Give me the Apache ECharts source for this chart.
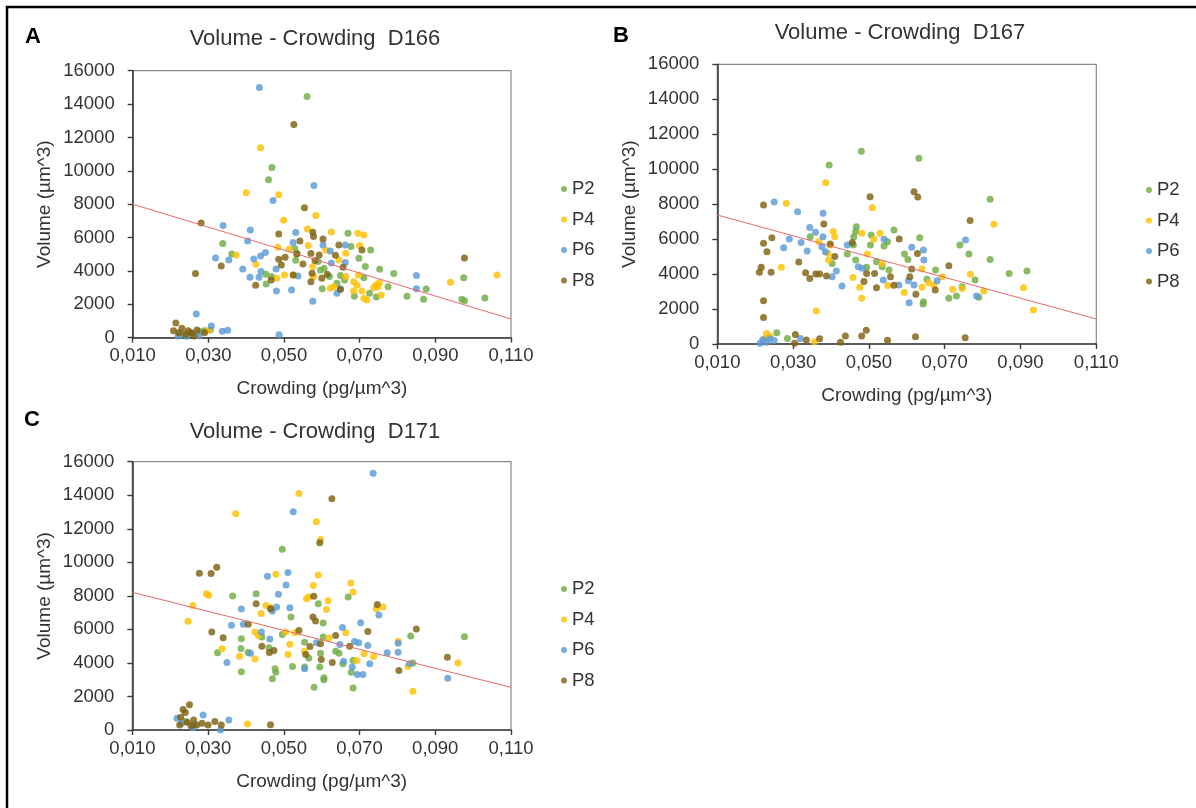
<!DOCTYPE html>
<html><head><meta charset="utf-8">
<script src="https://cdn.jsdelivr.net/npm/echarts@6/dist/echarts.min.js"></script>
<style>html,body{margin:0;padding:0;background:#fff}#c{width:1196px;height:808px}</style>
</head><body><div id="c"></div><script>
// ---------- DATA ----------
const seriesNames = ['P2', 'P4', 'P6', 'P8'];
const panelTitles = ['Volume - Crowding  D166', 'Volume - Crowding  D167', 'Volume - Crowding  D171'];
const panelLetters = ['A', 'B', 'C'];
const xTicks = [0.010, 0.030, 0.050, 0.070, 0.090, 0.110];
const yTicks = [0, 2000, 4000, 6000, 8000, 10000, 12000, 14000, 16000];
const xAxisTitle = 'Crowding (pg/µm^3)';
const yAxisTitle = 'Volume (µm^3)';

// Panel A (D166)
const aP2 = [[0.0561,14460],[0.0468,10200],[0.0459,9460],[0.0338,5640],[0.0362,5020],[0.0452,3800],[0.0453,3220],[0.0467,3660],[0.0528,5340],[0.0531,4640],[0.0534,5060],[0.0596,4040],[0.0601,2940],[0.0606,4160],[0.0620,3660],[0.0640,3260],[0.0649,3720],[0.0660,3460],[0.0669,6260],[0.0677,5460],[0.0686,2480],[0.0698,4760],[0.0711,3600],[0.0715,4260],[0.0729,5260],[0.0726,2660],[0.0744,2440],[0.0753,4100],[0.0775,3060],[0.0790,3840],[0.0825,2480],[0.0869,2300],[0.0876,2920],[0.0975,3600],[0.0970,2300],[0.0977,2220],[0.1031,2380],[0.0289,420],[0.0305,460],[0.0277,360],[0.0230,200],[0.0590,4560]];
const aP4 = [[0.0438,11380],[0.0400,8680],[0.0486,8560],[0.0584,7320],[0.0499,7040],[0.0562,6520],[0.0625,6340],[0.0564,5520],[0.0484,5420],[0.0514,5320],[0.0373,4960],[0.0426,4400],[0.0501,3760],[0.0481,3560],[0.0525,3760],[0.0576,4260],[0.0578,3660],[0.0631,3060],[0.0622,2960],[0.0663,5060],[0.0695,6260],[0.0711,6160],[0.0700,5520],[0.0645,4660],[0.0663,3660],[0.0697,3760],[0.0684,3360],[0.0693,3140],[0.0706,2800],[0.0684,2800],[0.0711,2360],[0.0719,2260],[0.0737,3000],[0.0743,3160],[0.0752,3300],[0.0748,3060],[0.0757,2560],[0.0940,3320],[0.1063,3760],[0.0302,460],[0.0250,300],[0.0610,5260]];
const aP6 = [[0.0435,15000],[0.0579,9120],[0.0471,8220],[0.0339,6720],[0.0411,6460],[0.0404,5800],[0.0531,6300],[0.0524,5700],[0.0319,4780],[0.0354,4660],[0.0391,4120],[0.0410,3620],[0.0420,4720],[0.0438,4900],[0.0451,5100],[0.0434,3620],[0.0439,3960],[0.0479,4120],[0.0480,2800],[0.0520,2860],[0.0576,2180],[0.0537,3700],[0.0603,5560],[0.0622,5200],[0.0662,5560],[0.0662,4500],[0.0625,4480],[0.0649,2920],[0.0640,2660],[0.0850,3720],[0.0850,2940],[0.0268,1420],[0.0308,700],[0.0337,380],[0.0351,440],[0.0487,180],[0.0220,100],[0.0243,80],[0.0275,120],[0.0255,300]];
const aP8 = [[0.0526,12780],[0.0554,7780],[0.0281,6880],[0.0486,6220],[0.0576,6320],[0.0578,6060],[0.0603,5920],[0.0542,5800],[0.0503,4820],[0.0486,4700],[0.0334,4300],[0.0266,3840],[0.0425,3140],[0.0466,3460],[0.0493,4360],[0.0524,3760],[0.0534,5020],[0.0550,4420],[0.0571,5040],[0.0582,4620],[0.0593,4960],[0.0574,3860],[0.0571,3360],[0.0600,3560],[0.0614,3800],[0.0636,4940],[0.0645,5560],[0.0656,4220],[0.0649,2900],[0.0706,5260],[0.0977,4780],[0.0214,880],[0.0208,420],[0.0230,560],[0.0247,420],[0.0256,260],[0.0270,460],[0.0262,100],[0.0240,200],[0.0222,300],[0.0290,300]];
const trendA = [[0.010,8000],[0.110,1120]];

// Panel B (D167)
const bP2 = [[0.0480,11020],[0.0395,10240],[0.0632,10620],[0.0467,6710],[0.0465,6430],[0.0345,6140],[0.0460,6140],[0.0506,6240],[0.0566,6520],[0.0459,5660],[0.0504,5660],[0.0540,5600],[0.0549,5850],[0.0594,5150],[0.0603,4840],[0.0465,4800],[0.0443,5150],[0.0494,4390],[0.0520,4710],[0.0535,4420],[0.0553,4230],[0.0634,6080],[0.0676,4230],[0.0653,3700],[0.0644,2420],[0.0643,2290],[0.0711,2610],[0.0731,2750],[0.0740,5660],[0.0764,5150],[0.0780,3660],[0.0790,2670],[0.0820,8280],[0.0820,4840],[0.0870,4040],[0.0917,4180],[0.0746,3280],[0.0403,4610],[0.0257,650],[0.0285,320]];
const bP4 = [[0.0386,9230],[0.0282,8050],[0.0509,7800],[0.0406,6430],[0.0410,6140],[0.0398,5660],[0.0392,5190],[0.0394,4800],[0.0529,6330],[0.0513,5990],[0.0481,6330],[0.0458,3800],[0.0476,3240],[0.0481,2610],[0.0269,4390],[0.0361,1890],[0.0368,5850],[0.0535,4610],[0.0496,5150],[0.0830,6850],[0.0640,4290],[0.0640,3240],[0.0593,2940],[0.0768,3990],[0.0721,3130],[0.0746,3180],[0.0803,3030],[0.0908,3220],[0.0934,1950],[0.0693,3850],[0.0658,3510],[0.0671,3380],[0.0230,600],[0.0240,450],[0.0225,300],[0.0356,130],[0.0550,3350]];
const bP6 = [[0.0250,8120],[0.0312,7570],[0.0379,7480],[0.0344,6660],[0.0359,6390],[0.0379,6140],[0.0290,6010],[0.0275,5510],[0.0321,5800],[0.0337,5320],[0.0376,5570],[0.0385,5280],[0.0414,4180],[0.0403,3850],[0.0429,3320],[0.0443,5660],[0.0472,4420],[0.0482,4330],[0.0540,5990],[0.0538,3660],[0.0579,3380],[0.0606,2360],[0.0619,3380],[0.0613,5530],[0.0604,3620],[0.0644,5380],[0.0645,4810],[0.0680,3620],[0.0755,5950],[0.0784,2750],[0.0213,50],[0.0220,250],[0.0230,100],[0.0238,300],[0.0250,200],[0.0319,320]];
const bP8 = [[0.0222,7950],[0.0503,8430],[0.0381,6870],[0.0244,6080],[0.0222,5760],[0.0231,5280],[0.0456,5800],[0.0216,4390],[0.0211,4100],[0.0242,4100],[0.0315,4690],[0.0333,4080],[0.0344,3740],[0.0360,4000],[0.0370,4000],[0.0388,3890],[0.0410,5000],[0.0398,5720],[0.0487,3570],[0.0494,4040],[0.0515,4040],[0.0520,3220],[0.0557,3850],[0.0566,3360],[0.0580,6000],[0.0619,8710],[0.0629,8410],[0.0767,7070],[0.0628,5170],[0.0613,4290],[0.0608,3850],[0.0624,2840],[0.0711,4480],[0.0675,3090],[0.0222,2480],[0.0222,1510],[0.0306,550],[0.0304,40],[0.0335,230],[0.0370,300],[0.0425,100],[0.0438,460],[0.0481,460],[0.0493,780],[0.0549,210],[0.0623,420],[0.0754,360]];
const trendB = [[0.010,7380],[0.110,1430]];

// Panel C (D171)
const cP2 = [[0.0496,10780],[0.0365,7990],[0.0427,8130],[0.0388,5440],[0.0387,4860],[0.0325,4600],[0.0461,4900],[0.0388,3470],[0.0406,4620],[0.0477,3650],[0.0479,3450],[0.0470,3050],[0.0442,5540],[0.0496,5700],[0.0519,6740],[0.0591,7530],[0.0604,6380],[0.0670,7930],[0.0555,5240],[0.0555,3750],[0.0604,5540],[0.0637,4700],[0.0646,4580],[0.0597,4580],[0.0595,3750],[0.0606,3110],[0.0606,2990],[0.0580,2550],[0.0523,3790],[0.0656,3950],[0.0678,3450],[0.0683,2510],[0.0683,4150],[0.0835,5600],[0.0841,3990],[0.0566,4300],[0.0977,5560],[0.0240,500],[0.0262,300]];
const cP4 = [[0.0373,12900],[0.0296,8130],[0.0302,8030],[0.0260,7430],[0.0247,6480],[0.0479,9290],[0.0453,7430],[0.0440,6940],[0.0465,7290],[0.0424,5840],[0.0433,5640],[0.0337,4840],[0.0383,4400],[0.0424,4230],[0.0404,360],[0.0540,14110],[0.0586,12420],[0.0597,11360],[0.0591,9250],[0.0578,8610],[0.0677,8770],[0.0683,8230],[0.0560,7830],[0.0566,7930],[0.0617,7710],[0.0613,7190],[0.0744,7230],[0.0762,7330],[0.0664,5800],[0.0619,5480],[0.0516,5120],[0.0511,4500],[0.0555,4700],[0.0712,4540],[0.0737,4380],[0.0693,4150],[0.0802,5300],[0.0828,3790],[0.0841,2310],[0.0960,4000],[0.0505,5840],[0.0530,5800]];
const cP6 = [[0.0457,9170],[0.0486,8090],[0.0388,7210],[0.0362,6240],[0.0393,6300],[0.0481,7330],[0.0470,7090],[0.0441,5840],[0.0463,5420],[0.0412,4580],[0.0350,4030],[0.0287,900],[0.0218,700],[0.0355,600],[0.0333,0],[0.0736,15310],[0.0525,13010],[0.0511,9390],[0.0506,8650],[0.0516,7290],[0.0655,6120],[0.0703,6400],[0.0751,6860],[0.0586,5200],[0.0687,5280],[0.0698,5200],[0.0722,5040],[0.0648,5100],[0.0802,5180],[0.0802,4640],[0.0773,4600],[0.0658,4100],[0.0681,3750],[0.0694,3310],[0.0709,3310],[0.0727,3950],[0.0832,3950],[0.0933,3090],[0.0555,3650],[0.0230,400],[0.0260,150]];
const cP8 = [[0.0277,9350],[0.0308,9330],[0.0323,9710],[0.0310,5840],[0.0340,5500],[0.0427,7530],[0.0465,7230],[0.0406,6300],[0.0442,5000],[0.0462,4620],[0.0474,4740],[0.0465,320],[0.0234,1220],[0.0251,1500],[0.0240,1040],[0.0228,760],[0.0245,460],[0.0262,600],[0.0270,300],[0.0284,400],[0.0300,300],[0.0318,500],[0.0335,300],[0.0225,300],[0.0255,250],[0.0627,13790],[0.0595,11160],[0.0579,7970],[0.0577,6740],[0.0584,6500],[0.0540,5940],[0.0747,7490],[0.0722,5880],[0.0850,6020],[0.0637,5640],[0.0597,5140],[0.0569,4980],[0.0558,4500],[0.0599,4200],[0.0628,4030],[0.0674,5000],[0.0804,3550],[0.0932,4340]];
const trendC = [[0.010,8210],[0.110,2545]];

// ---------- LAYOUT / STYLE ----------
const panels = [
  {data: [aP2, aP4, aP6, aP8], trend: trendA},
  {data: [bP2, bP4, bP6, bP8], trend: trendB},
  {data: [cP2, cP4, cP6, cP8], trend: trendC}
];
const colors = ['#70AD47', '#FFC000', '#5B9BD5', '#7F6112'];
const FONT = '"Liberation Sans", Arial, sans-serif';
const TXT = '#333333';
const grids = [
  {left: 132.7, top: 70.7, width: 378.3, height: 267},
  {left: 717.3, top: 64.3, width: 379, height: 279.7},
  {left: 132.3, top: 461.7, width: 378.7, height: 268.3}
];
const titlePos = [{x: 315, y: 28}, {x: 900, y: 22}, {x: 315, y: 421}];
const letterPos = [{x: 33, y: 26}, {x: 621, y: 25}, {x: 32, y: 409}];
const legendPos = [{left: 561, top: 179}, {left: 1146, top: 180}, {left: 561, top: 579}];

const option = {
  animation: false,
  backgroundColor: '#fff',
  textStyle: {fontFamily: FONT},
  title: [],
  grid: grids.map(g => Object.assign({show: true, borderColor: '#8a8a8a', borderWidth: 1.2, backgroundColor: 'transparent'}, g)),
  xAxis: [], yAxis: [], legend: [], series: [],
  graphic: [{
    type: 'polyline', silent: true,
    shape: {points: [[7, 810], [7, 7], [1198, 7]]},
    style: {stroke: '#000', lineWidth: 2.5, fill: null}
  }]
};

panels.forEach((p, i) => {
  option.title.push({
    text: panelTitles[i], left: titlePos[i].x, top: titlePos[i].y, textAlign: 'center', padding: 0,
    textStyle: {fontFamily: FONT, fontSize: 22, fontWeight: 'normal', color: TXT}
  });
  option.title.push({
    text: panelLetters[i], left: letterPos[i].x, top: letterPos[i].y, textAlign: 'center', padding: 0,
    textStyle: {fontFamily: FONT, fontSize: 22, fontWeight: 'bold', color: '#000'}
  });
  option.xAxis.push({
    type: 'value', gridIndex: i, min: 0.01, max: 0.11,
    name: xAxisTitle, nameLocation: 'middle', nameGap: 42,
    nameTextStyle: {fontFamily: FONT, fontSize: 19, color: TXT},
    axisLine: {show: true, onZero: false, lineStyle: {color: '#3a3a3a', width: 1.6}},
    axisTick: {show: true, inside: false, length: 5, customValues: xTicks, lineStyle: {color: '#3a3a3a', width: 1.4}},
    axisLabel: {customValues: xTicks, margin: 9, fontFamily: FONT, fontSize: 18.5, color: TXT,
      formatter: v => v.toFixed(3).replace('.', ',')},
    splitLine: {show: false}
  });
  option.yAxis.push({
    type: 'value', gridIndex: i, min: 0, max: 16000, interval: 2000,
    name: yAxisTitle, nameLocation: 'middle', nameGap: 78,
    nameTextStyle: {fontFamily: FONT, fontSize: 19, color: TXT},
    axisLine: {show: true, onZero: false, lineStyle: {color: '#3a3a3a', width: 1.6}},
    axisTick: {show: true, inside: false, length: 5, lineStyle: {color: '#3a3a3a', width: 1.4}},
    axisLabel: {margin: 18, fontFamily: FONT, fontSize: 18.5, color: TXT, formatter: v => String(v)},
    splitLine: {show: false}
  });
  option.legend.push({
    data: seriesNames, orient: 'vertical', left: legendPos[i].left, top: legendPos[i].top, padding: 0,
    icon: 'circle', itemWidth: 6, itemHeight: 6, itemGap: 10.5,
    textStyle: {fontFamily: FONT, fontSize: 18.5, color: TXT, lineHeight: 20}
  });
  p.data.forEach((d, k) => {
    option.series.push({
      type: 'scatter', name: seriesNames[k], xAxisIndex: i, yAxisIndex: i,
      data: d, symbol: 'circle', symbolSize: 7,
      itemStyle: {color: colors[k], opacity: 0.82}, z: 2
    });
  });
  option.series.push({
    type: 'line', name: 'trend' + i, xAxisIndex: i, yAxisIndex: i,
    data: p.trend, showSymbol: false, silent: true,
    lineStyle: {color: '#E8696B', width: 1}, z: 5
  });
});

const chart = echarts.init(document.getElementById('c'), null, {renderer: 'canvas'});
chart.setOption(option);
</script></body></html>
